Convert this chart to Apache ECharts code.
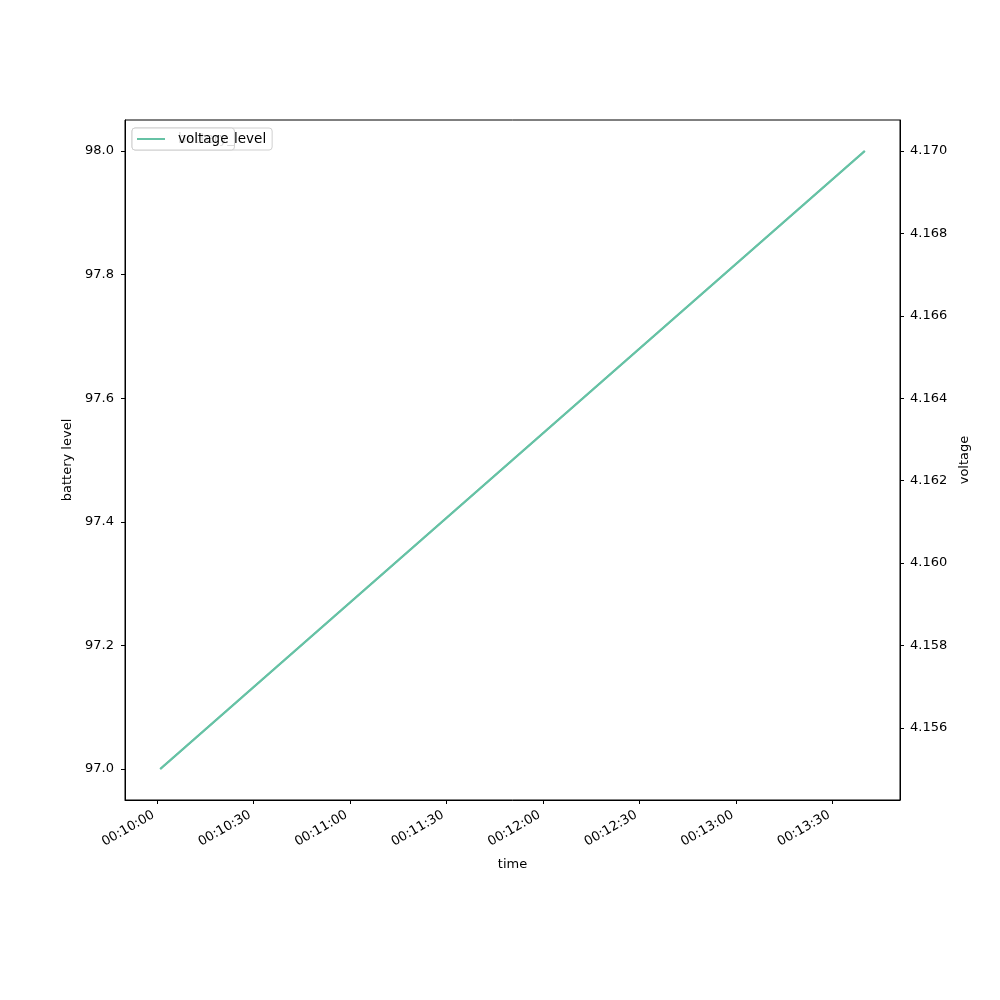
<!DOCTYPE html>
<html>
<head>
<meta charset="utf-8">
<script src="https://cdn.jsdelivr.net/npm/echarts@6/dist/echarts.min.js"></script>
<style>html,body{margin:0;padding:0;background:#fff}#c{width:1000px;height:1000px}</style>
</head>
<body>
<div id="c"></div>
<script>
const times = ['2024-01-01T00:10:01', '2024-01-01T00:13:40'];
const batteryLevel = [97.0, 98.0];
const voltage = [4.155, 4.170];
const timeTicks = ['2024-01-01T00:10:00','2024-01-01T00:10:30','2024-01-01T00:11:00','2024-01-01T00:11:30','2024-01-01T00:12:00','2024-01-01T00:12:30','2024-01-01T00:13:00','2024-01-01T00:13:30'];
const batteryTicks = [97.0, 97.2, 97.4, 97.6, 97.8, 98.0];
const voltageTicks = [4.156, 4.158, 4.160, 4.162, 4.164, 4.166, 4.168, 4.170];

const tms = times.map(t => new Date(t).getTime());
const tickMs = timeTicks.map(t => new Date(t).getTime());
function pad(lo, hi, m) { const s = hi - lo; return [lo - s * m, hi + s * m]; }
const xr = pad(Math.min(...tms), Math.max(...tms), 0.05);
const br = pad(Math.min(...batteryLevel), Math.max(...batteryLevel), 0.05);
const vr = pad(Math.min(...voltage), Math.max(...voltage), 0.05);
const p2 = n => String(n).padStart(2, '0');
const fmtTime = v => { const d = new Date(v); return p2(d.getHours()) + ':' + p2(d.getMinutes()) + ':' + p2(d.getSeconds()); };

const font = 'DejaVu Sans';
const color = '#66c2a5';
const chart = echarts.init(document.getElementById('c'));
const axisCommon = {
  axisLine: { show: true, lineStyle: { color: '#000', width: 1 } },
  splitLine: { show: false },
  nameTextStyle: { fontFamily: font, fontSize: 13, color: '#000' }
};
const legendCommon = {
  left: 132, top: 128, orient: 'vertical', padding: [4, 6, 4, 5], itemWidth: 28, itemHeight: 2, itemGap: 0, icon: 'rect',
  backgroundColor: 'rgba(255,255,255,0.85)', borderColor: '#d0d0d0', borderWidth: 1, borderRadius: 3,
  textStyle: { fontFamily: font, fontSize: 13.5, color: '#000', padding: [0, 0, 0, 8] }
};
chart.setOption({
  animation: false,
  backgroundColor: '#fff',
  grid: { left: 125, right: 100, top: 120, bottom: 200, show: true, borderColor: '#000', borderWidth: 1, backgroundColor: 'transparent' },
  legend: [
    Object.assign({}, legendCommon, { data: ['battery_level'], z: 4 }),
    Object.assign({}, legendCommon, { data: ['voltage'], z: 5 })
  ],
  xAxis: Object.assign({}, axisCommon, {
    type: 'value', min: xr[0], max: xr[1], name: 'time', nameLocation: 'middle', nameGap: 58,
    axisTick: { show: true, length: 4, lineStyle: { color: '#000' }, customValues: tickMs },
    axisLabel: { customValues: tickMs, rotate: 30, fontFamily: font, fontSize: 13, color: '#000', margin: 12, padding: [0, 4, 0, 0], formatter: v => fmtTime(v) }
  }),
  yAxis: [
    Object.assign({}, axisCommon, {
      type: 'value', min: br[0], max: br[1], name: 'battery level', nameLocation: 'middle', nameGap: 47, position: 'left',
      axisTick: { show: true, length: 4, lineStyle: { color: '#000' }, customValues: batteryTicks },
      axisLabel: { customValues: batteryTicks, fontFamily: font, fontSize: 13, color: '#000', margin: 11, formatter: v => v.toFixed(1) }
    }),
    Object.assign({}, axisCommon, {
      type: 'value', min: vr[0], max: vr[1], name: 'voltage', nameLocation: 'middle', nameGap: 55, position: 'right',
      axisTick: { show: true, length: 4, lineStyle: { color: '#000' }, customValues: voltageTicks },
      axisLabel: { customValues: voltageTicks, fontFamily: font, fontSize: 13, color: '#000', margin: 10, formatter: v => v.toFixed(3) }
    })
  ],
  series: [
    { name: 'battery_level', type: 'line', yAxisIndex: 0, symbol: 'none', color: color, lineStyle: { width: 2, color: color },
      data: tms.map((t, i) => [t, batteryLevel[i]]) },
    { name: 'voltage', type: 'line', yAxisIndex: 1, symbol: 'none', color: color, lineStyle: { width: 2, color: color },
      data: tms.map((t, i) => [t, voltage[i]]) }
  ]
});
</script>
</body>
</html>
